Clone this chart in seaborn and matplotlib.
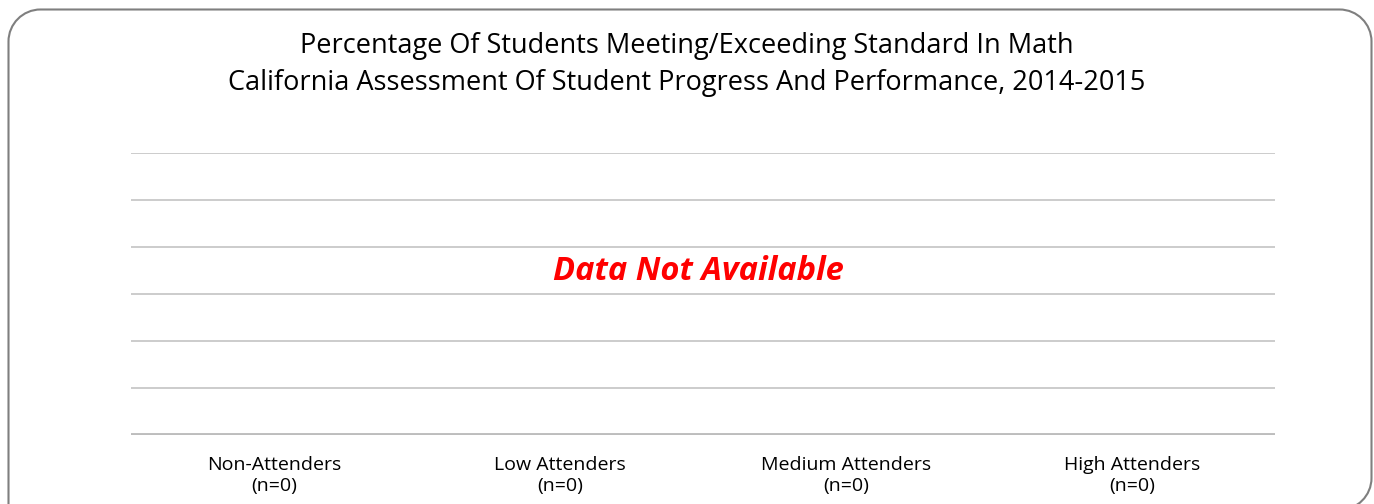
import matplotlib
matplotlib.use("Agg")
import matplotlib.pyplot as plt
import seaborn as sns
import pandas as pd
from matplotlib.patches import PathPatch
from matplotlib.path import Path
from matplotlib.transforms import IdentityTransform

categories = ["Non-Attenders", "Low Attenders", "Medium Attenders", "High Attenders"]
counts = [0, 0, 0, 0]
values = [0, 0, 0, 0]
title_lines = ["Percentage Of Students Meeting/Exceeding Standard In Math",
               "California Assessment Of Student Progress And Performance, 2014-2015"]
message = "Data Not Available"

sns.set_theme(style="white")
plt.rcParams['font.family'] = ['Open Sans', 'DejaVu Sans']

W, H = 1374, 504
fig = plt.figure(figsize=(W / 100, H / 100), dpi=100)
ax = fig.add_axes([131 / W, 1 - 435 / H, (1275 - 131) / W, (435 - 153) / H])

df = pd.DataFrame({"cat": categories, "val": values})
sns.barplot(data=df, x="cat", y="val", ax=ax, color="#4f81bd", width=0.6)

ax.set_ylim(0, 100)
ax.set_xlim(-0.5, len(categories) - 0.5)
for yv in [100 / 6 * i for i in range(1, 7)]:
    ax.axhline(yv, color="#c4c4c4", lw=1.2, zorder=0)
ax.axhline(0, color="#bdbdbd", lw=2.8, zorder=3)
for s in ax.spines.values():
    s.set_visible(False)
ax.set_yticks([])
ax.set_xticks(range(len(categories)))
ax.set_xticklabels([f"{c}\n(n={n})" for c, n in zip(categories, counts)],
                   fontsize=14, color="#000000", linespacing=1.24)
ax.tick_params(axis="x", length=0, pad=15)
ax.set_xlabel("")
ax.set_ylabel("")

ax.text((698 - 131) / (1275 - 131), 1 - (272 - 153) / (435 - 153), message, transform=ax.transAxes,
        ha="center", va="center", color="#ff0000", fontsize=23.5,
        fontweight="bold", fontstyle="italic")

fig.text(0.5, 1 - 46 / H, title_lines[0], ha="center", va="center", fontsize=19.5, color="#000000")
fig.text(0.5, 1 - 83 / H, title_lines[1], ha="center", va="center", fontsize=19.5, color="#000000")

# rounded frame in pixel coordinates (y up from bottom)
L, R, T, B, r = 8.5, 1371.5, H - 9.5, -6, 32
k = 0.5523 * r
verts = [(L, B), (L, T - r), (L, T - r + k), (L + r - k, T), (L + r, T),
         (R - r, T), (R - r + k, T), (R, T - r + k), (R, T - r),
         (R, B + r), (R, B + r - k), (R - r + k, B), (R - r, B), (L, B)]
codes = [Path.MOVETO, Path.LINETO, Path.CURVE4, Path.CURVE4, Path.CURVE4,
         Path.LINETO, Path.CURVE4, Path.CURVE4, Path.CURVE4,
         Path.LINETO, Path.CURVE4, Path.CURVE4, Path.CURVE4, Path.LINETO]
frame = PathPatch(Path(verts, codes), transform=IdentityTransform(),
                  facecolor="none", edgecolor="#7f7f7f", lw=1.5)
fig.patches.append(frame)

fig.savefig("out.png", dpi=100, facecolor="white")
